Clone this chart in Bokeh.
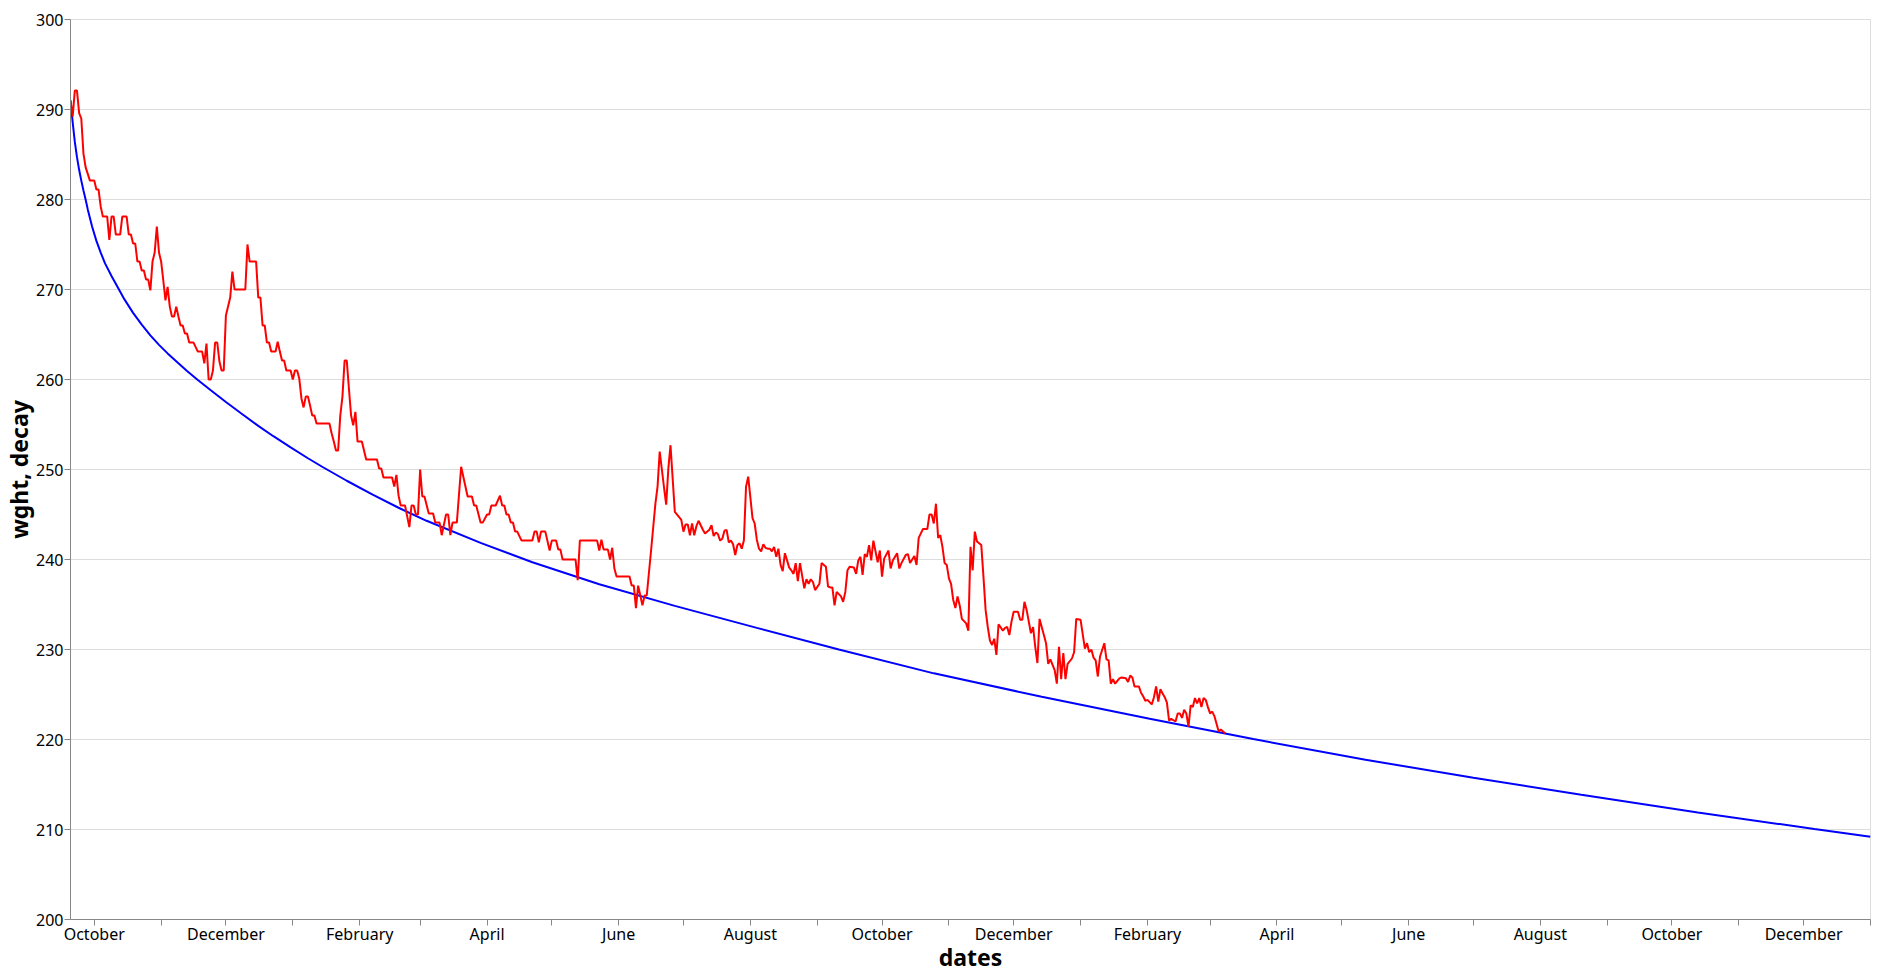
import pandas as pd
from bokeh.plotting import figure
from bokeh.models import Range1d, MonthsTicker, CustomJSTickFormatter, FixedTicker
from bokeh.embed import file_html
from bokeh.resources import INLINE

# ---------------- data ----------------
start_date = "2018-09-20"
end_date = "2021-01-01"

# days after start_date, and measured weight
wght_day = [
    0, 1, 2, 3, 4, 5, 6, 7, 9, 11, 12, 13, 14, 15, 17, 18, 19, 20, 21, 23, 24, 26, 27, 28, 29, 30,
    31, 32, 33, 34, 35, 36, 37, 38, 39, 40, 41, 42, 43, 44, 45, 46, 47, 48, 49, 50, 51, 52, 53, 54,
    55, 57, 59, 61, 62, 63, 64, 65, 66, 67, 68, 69, 70, 71, 72, 73, 74, 75, 76, 81, 82, 83, 86, 87,
    88, 89, 90, 91, 92, 93, 95, 96, 97, 98, 99, 100, 102, 103, 104, 105, 106, 107, 108, 109, 110,
    111, 112, 113, 114, 120, 121, 122, 123, 124, 125, 126, 127, 128, 129, 130, 131, 132, 133, 135,
    136, 137, 142, 143, 144, 145, 149, 150, 151, 152,
    153, 155, 157, 158, 159, 160, 161, 162, 163, 164, 166, 168, 169, 171, 172, 174, 175, 176, 177,
    179, 181, 184, 186, 187, 188, 190, 191, 193, 194, 195, 197, 199, 200, 201, 202, 203, 204, 205,
    206, 207, 209, 214, 215, 216, 217, 218, 220, 222, 223, 225, 226, 227, 228, 234, 235, 236, 244,
    245, 246, 247, 249, 250, 251, 252, 253, 259, 260, 261, 262, 263, 264, 265, 266, 267, 269, 271,
    272, 273, 275, 276, 277, 278, 280, 282, 283, 284, 285, 286, 287, 288, 289, 290, 291, 293, 294,
    296, 297, 298, 299, 300, 301, 302, 303, 304, 305, 306, 307, 308, 309, 310, 311, 312, 313, 314,
    316, 317, 318, 319, 320, 321, 322, 323, 324, 325, 326, 327, 328, 329, 330, 331, 332, 333, 334,
    335, 336, 337, 338,
    340, 341, 342, 343, 344, 345, 347, 348, 350, 351, 352, 353, 354, 355, 357, 358, 359, 360, 361,
    363, 364, 365, 366, 367, 368, 369, 370, 371, 372, 374, 375, 376, 377, 379, 380, 381, 383, 384,
    385, 387, 388, 389, 391, 392, 393, 394, 395, 397, 398, 399, 400, 401, 402, 403, 404, 405, 406,
    407, 408, 409, 410, 411, 412, 413, 415, 416, 417, 418, 419, 420, 422, 423, 424, 425, 426, 427,
    428, 429, 430, 432, 433, 434, 435, 436, 437, 439, 440, 441, 442, 443, 445, 446, 447, 448, 449,
    451, 452, 453, 454, 456, 457, 458, 459, 460, 461, 462, 464, 465, 466, 468, 470, 471, 472, 473,
    474, 475, 476, 477, 479, 480, 481, 482, 483, 484, 486, 487, 489, 490, 491, 492, 493, 495, 496,
    497, 498, 499, 501, 502, 503, 504, 505, 506, 507, 508, 509, 510, 512, 513, 514, 515, 516, 517,
    518, 519, 520, 521, 522, 523, 524, 525, 526, 527, 528, 529, 530, 532, 533, 534, 535,
]
wght = [
    291.0, 289.2, 292.1, 292.1, 289.6, 289.0, 285.1, 283.6, 282.1, 282.1, 281.1, 281.1, 279.2, 278.1,
    278.1, 275.5, 278.1, 278.1, 276.1, 276.1, 278.1, 278.1, 276.1, 276.1, 275.1, 275.1,
    273.1, 273.1, 272.1, 272.1, 271.1, 271.1, 269.9, 273.1, 274.1, 277.0, 274.1, 273.1, 271.0, 268.8,
    270.3, 268.1, 267.0, 267.0, 268.1, 267.0, 266.0, 266.0, 265.1, 265.1,
    264.1, 264.1, 263.1, 263.1, 261.8, 264.0, 260.0, 260.0, 261.0, 264.1, 264.1, 262.0, 261.0, 261.0,
    267.1, 268.1, 269.1, 272.0, 270.0, 270.0, 275.0, 273.1, 273.1, 269.1,
    269.1, 266.0, 266.0, 264.1, 264.1, 263.1, 263.1, 264.2, 263.1, 262.1, 262.1, 261.0, 261.0, 260.0,
    261.0, 261.0, 260.1, 257.9, 256.9, 258.1, 258.1,
    257.1, 256.0, 256.0, 255.1, 255.1, 254.0, 253.1, 252.1, 252.1, 256.0, 258.1, 262.1, 262.1, 259.0,
    256.0, 254.9, 256.4, 253.1, 253.1,
    252.1, 251.1, 251.1, 250.1, 250.1, 249.1, 249.1, 248.1, 249.4, 247.1,
    246.0, 246.0, 243.6, 246.0, 246.0, 245.0, 245.0, 250.0, 247.0, 247.0, 245.1, 245.1, 244.1, 244.1,
    242.7, 245.0, 245.0, 242.7, 244.1,
    244.1, 250.3, 247.0, 247.0, 246.0, 246.0, 244.1, 244.1, 245.0, 245.0, 246.0, 246.0, 247.1, 246.0,
    246.0, 245.0, 245.0, 244.1, 244.1,
    243.1, 243.1, 242.1, 242.1, 243.1, 243.1, 241.9, 243.1, 243.1, 241.0, 242.1, 242.1, 241.1, 241.1,
    240.0, 240.0, 237.7, 242.1, 242.1,
    241.0, 242.2, 241.1, 241.1, 240.0, 241.3, 239.0, 238.1, 238.1, 237.1, 237.1, 234.6, 237.1, 236.0,
    234.9, 236.0, 236.0, 241.0, 246.2,
    248.1, 252.0, 248.0, 246.1, 250.1, 252.7, 245.3, 244.7, 244.4, 243.1, 243.9, 243.9, 242.7, 244.0,
    242.7, 243.7, 244.3, 243.3, 242.9,
    243.3, 243.8, 242.6, 243.0, 242.8, 242.1, 242.3, 243.2, 243.3, 241.9, 242.1, 241.7, 240.5, 241.6,
    241.8, 241.2, 242.1, 248.1, 249.2,
    244.6, 244.0, 242.2, 241.2, 240.9, 241.7, 241.3, 241.2, 241.2, 240.9, 241.4, 240.3, 241.2, 239.4,
    238.7, 240.7, 239.9, 239.1, 238.8,
    238.4, 239.6, 237.6, 239.6,
    236.8, 237.8, 237.3, 237.8, 237.5, 236.6, 237.3, 239.6, 239.2, 237.0, 236.9, 236.9, 234.9, 236.4,
    235.9, 235.3, 236.4, 238.8, 239.2,
    239.1, 238.4, 239.9, 240.3, 238.3, 240.6, 240.3, 241.6, 239.9, 242.1, 239.7, 241.0, 238.1, 240.1,
    241.0, 239.0, 239.9, 240.7, 239.0,
    239.6, 240.5, 240.6, 239.6, 240.4, 239.4, 242.4, 242.9, 243.4, 243.4, 245.0, 245.0, 244.0, 246.2,
    242.4, 242.7, 241.4, 239.6, 239.4,
    237.9, 237.3, 235.5, 234.6, 235.9, 234.9, 233.4, 232.9, 232.1, 241.4, 238.8, 243.1, 242.0, 241.6,
    238.1, 234.4, 232.5, 231.0, 230.5,
    231.2, 229.4, 232.8, 232.1, 232.4, 232.5, 231.6, 233.1, 234.2, 234.2, 233.3, 233.3, 235.3, 234.4,
    231.8, 232.5, 230.3, 228.5, 233.4,
    231.6, 230.7, 228.4, 228.9, 227.7, 226.2, 230.3, 226.7, 229.6, 226.7, 228.4, 229.0, 229.7, 233.4,
    233.3, 230.1, 230.7, 229.7, 230.0,
    229.1, 228.8, 227.0, 229.2, 230.7, 228.9, 228.8, 226.2, 226.7, 226.2, 226.8, 226.9, 226.8, 226.4,
    227.1, 226.9, 225.9, 225.9, 225.2,
    224.8, 224.3, 224.4, 223.9, 224.7, 225.9, 224.2, 225.6, 225.1, 224.7, 224.1, 222.1, 222.3, 222.0,
    222.9, 222.9, 222.4, 223.3, 222.9,
    221.4, 223.8, 223.6, 224.6, 224.0, 224.6, 223.6, 224.6, 224.4, 223.6, 222.9, 223.1, 222.6, 220.9,
    221.1, 220.9, 220.7,
]

# days after start_date, and fitted decay curve
decay_day = [0, 1, 2, 3, 4, 5, 6, 7, 8, 10, 12, 14, 16, 19, 22, 25, 29, 33, 37, 41, 45, 50, 54, 59,
             65, 72, 79, 87, 94, 102, 110, 117, 128, 140, 152, 165, 190, 214, 245, 280, 318, 356,
             400, 450, 500, 548, 600, 650, 700, 754, 808, 834]
decay = [291.0, 288.6, 286.4, 284.7, 283.3, 282.1, 281.0, 280.0, 278.9, 277.0, 275.4, 274.1, 272.9,
         271.5, 270.2, 268.9, 267.4, 266.1, 264.9, 263.85, 262.9, 261.8, 260.95, 259.95, 258.8,
         257.5, 256.25, 254.85, 253.7, 252.45, 251.25, 250.25, 248.75, 247.2, 245.75, 244.3, 241.85,
         239.7, 237.25, 234.85, 232.4, 230.0, 227.35, 224.75, 222.3, 220.05, 217.75, 215.75, 213.85,
         211.9, 210.05, 209.2]

month_names = ["January", "February", "March", "April", "May", "June", "July", "August",
               "September", "October", "November", "December"]
y_ticks = [200, 210, 220, 230, 240, 250, 260, 270, 280, 290, 300]

# ---------------- figure ----------------
base = pd.Timestamp(start_date)
wght_dates = base + pd.to_timedelta(wght_day, unit="D")
decay_dates = base + pd.to_timedelta(decay_day, unit="D")

FONT = "Noto Sans"

p = figure(
    x_axis_type="datetime",
    x_range=Range1d(pd.Timestamp(start_date), pd.Timestamp(end_date)),
    y_range=Range1d(200, 300),
    frame_width=1800, frame_height=900,
    min_border_left=63, min_border_top=19, min_border_right=2, min_border_bottom=44,
    output_backend="svg", toolbar_location=None,
    background_fill_color="white", border_fill_color="white",
)
p.outline_line_color = "#dddddd"
p.xgrid.visible = False
p.ygrid.grid_line_color = "#dddddd"
p.ygrid.grid_line_width = 1

p.line(decay_dates, decay, line_color="#0000ff", line_width=2)
p.line(wght_dates, wght, line_color="#ff0000", line_width=2)

# x axis
xa = p.xaxis[0]
xa.ticker = MonthsTicker(months=list(range(12)))
xa.formatter = CustomJSTickFormatter(
    args=dict(names=month_names),
    code="const m = new Date(tick).getUTCMonth(); return (m % 2 == 1) ? names[m] : '';",
)
xa.axis_label = "dates"

# y axis
ya = p.yaxis[0]
ya.ticker = FixedTicker(ticks=y_ticks)
ya.axis_label = "wght, decay"

for ax in (xa, ya):
    ax.axis_line_color = "#888888"
    ax.major_tick_line_color = "#888888"
    ax.minor_tick_line_color = None
    ax.major_tick_out = 6
    ax.major_tick_in = 0
    ax.major_label_text_font = FONT
    ax.major_label_text_font_size = "16px"
    ax.major_label_text_color = "#000000"
    ax.axis_label_text_font = FONT
    ax.axis_label_text_font_size = "23px"
    ax.axis_label_text_font_style = "bold"
    ax.axis_label_text_color = "#000000"

xa.major_label_standoff = -3
xa.axis_label_standoff = -7
ya.major_label_standoff = 1
ya.axis_label_standoff = -2

open("out.html", "w").write(file_html(p, INLINE))
